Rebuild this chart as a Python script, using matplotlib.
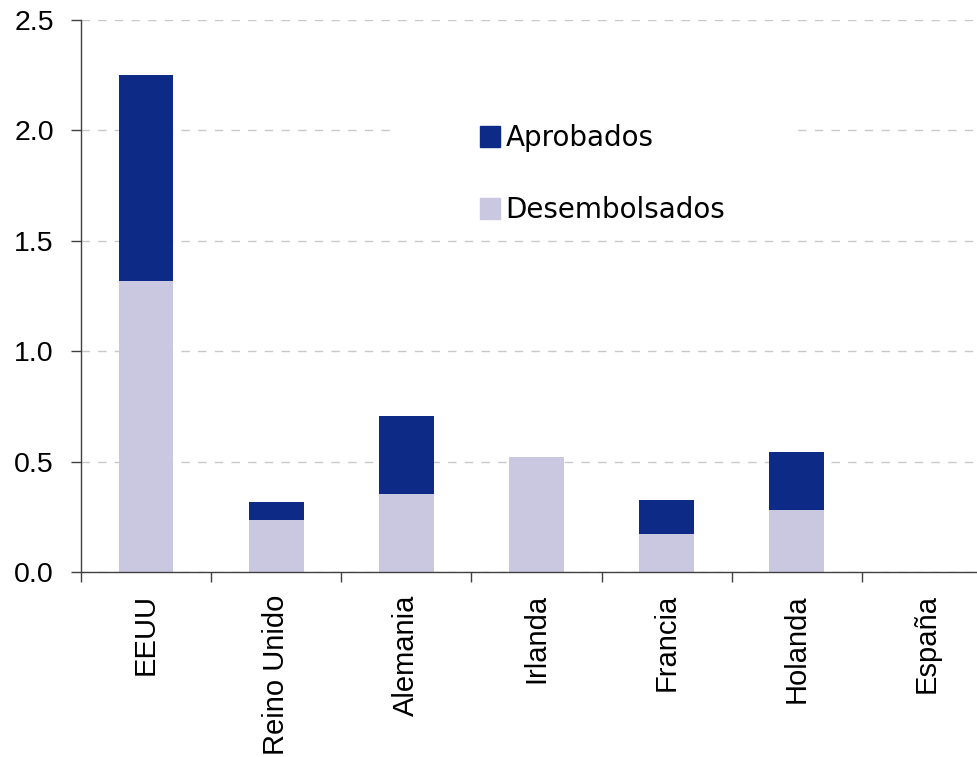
import numpy as np
import matplotlib.pyplot as plt
from matplotlib.patches import Patch, Rectangle

paises = ['EEUU', 'Reino Unido', 'Alemania', 'Irlanda', 'Francia', 'Holanda', 'España']
desembolsados = [1.32, 0.235, 0.355, 0.52, 0.172, 0.28, 0.0]
aprobados = [0.93, 0.08, 0.35, 0.0, 0.155, 0.265, 0.0]

c_aprob = '#0e2a87'
c_desemb = '#c9c8e0'

fig = plt.figure(figsize=(9.78, 7.57), dpi=100)
W, H = 978, 757
ax = fig.add_axes([81 / W, (H - 572) / H, (992 - 81) / W, (572 - 20) / H])

x = np.arange(len(paises))
ax.bar(x, desembolsados, width=0.42, color=c_desemb, zorder=2)
ax.bar(x, aprobados, width=0.42, bottom=desembolsados, color=c_aprob, zorder=2)

ax.set_xlim(-0.5, len(paises) - 0.5)
ax.set_ylim(0, 2.5)
ax.set_yticks(np.arange(0, 2.51, 0.5))
ax.set_yticklabels([f'{v:.1f}' for v in np.arange(0, 2.51, 0.5)],
                   fontsize=20.5, family='Liberation Sans')
ax.yaxis.grid(True, color='#c8c8c8', linestyle=(0, (6, 6)), linewidth=1)

# marcas en los limites entre paises, etiquetas centradas
ax.set_xticks(np.arange(len(paises) + 1) - 0.5)
ax.set_xticklabels([])
ax.set_xticks(x, minor=True)
ax.set_xticklabels(paises, minor=True, rotation=90, fontsize=21,
                   family='Liberation Sans', va='top')
ax.tick_params(axis='x', which='minor', length=0, pad=16)
ax.tick_params(axis='x', which='major', length=7.5, width=1, color='#404040')
ax.tick_params(axis='y', length=7.5, width=1, color='#404040', pad=12)

for s in ['top', 'right']:
    ax.spines[s].set_visible(False)
for s in ['left', 'bottom']:
    ax.spines[s].set_color('#404040')
    ax.spines[s].set_linewidth(1)

# fondo blanco de la leyenda (tapa la linea de 2.0)
fondo = Rectangle((395, H - 232), 400, 130, transform=None,
                  facecolor='white', edgecolor='none', zorder=1.8)
ax.add_patch(fondo)

handles = [Patch(color=c_aprob, label='Aprobados'),
           Patch(color=c_desemb, label='Desembolsados')]
leg = ax.legend(handles=handles, loc='upper left',
                bbox_to_anchor=(480 / W, (H - 124) / H), bbox_transform=fig.transFigure,
                frameon=False, prop={'family': 'DejaVu Sans', 'size': 20},
                handlelength=0.72, handleheight=0.8, handletextpad=0.2,
                labelspacing=1.6, borderpad=0, borderaxespad=0)
leg.set_zorder(3)

fig.savefig('out.png', dpi=100, facecolor='white')
